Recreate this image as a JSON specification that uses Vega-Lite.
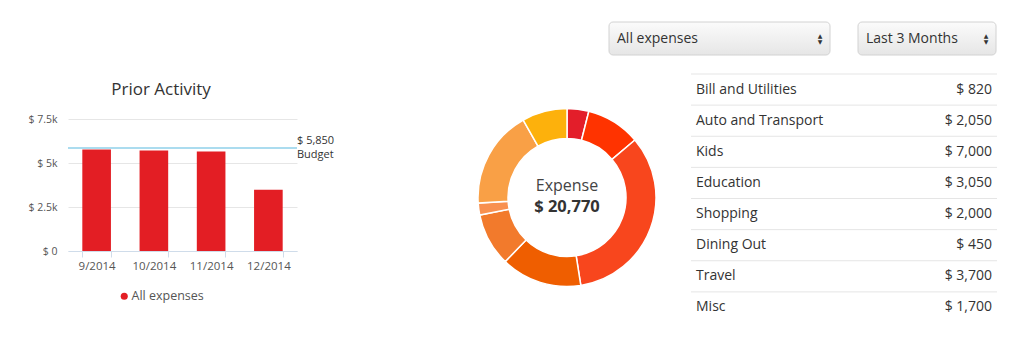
{
  "$schema": "https://vega.github.io/schema/vega-lite/v6.json",
  "width": 1024,
  "height": 338,
  "autosize": {"type": "none"},
  "padding": 0,
  "background": "white",
  "view": {"stroke": null},
  "config": {"font": "Open Sans"},
  "datasets": {
    "months": [
      {"month": "9/2014", "amount": 5760, "series": "All expenses"},
      {"month": "10/2014", "amount": 5710, "series": "All expenses"},
      {"month": "11/2014", "amount": 5660, "series": "All expenses"},
      {"month": "12/2014", "amount": 3480, "series": "All expenses"}
    ],
    "budget": [
      {"name": "Budget", "amount": 5850, "lines": ["$ 5,850", "Budget"], "first": "9/2014", "last": "12/2014"}
    ],
    "title": [{"title": "Prior Activity"}],
    "categories": [
      {"order": 1, "category": "Bill and Utilities", "amount": 820, "label": "$ 820"},
      {"order": 2, "category": "Auto and Transport", "amount": 2050, "label": "$ 2,050"},
      {"order": 3, "category": "Kids", "amount": 7000, "label": "$ 7,000"},
      {"order": 4, "category": "Education", "amount": 3050, "label": "$ 3,050"},
      {"order": 5, "category": "Shopping", "amount": 2000, "label": "$ 2,000"},
      {"order": 6, "category": "Dining Out", "amount": 450, "label": "$ 450"},
      {"order": 7, "category": "Travel", "amount": 3700, "label": "$ 3,700"},
      {"order": 8, "category": "Misc", "amount": 1700, "label": "$ 1,700"}
    ],
    "total": [{"chart": "Expense", "label": "$ 20,770"}],
    "filterA": [{"name": "All expenses"}],
    "filterB": [{"name": "Last 3 Months"}]
  },
  "layer": [
    {
      "data": {"name": "months"},
      "layer": [
        {
          "mark": {"type": "bar"},
          "encoding": {
            "x": {
              "field": "month", "type": "ordinal",
              "scale": {"domain": ["9/2014", "10/2014", "11/2014", "12/2014"], "range": [68, 297], "paddingInner": 0.5, "paddingOuter": 0.25},
              "axis": {"orient": "bottom", "offset": -87, "title": null, "labelAngle": 0, "tickBand": "extent", "domainColor": "#cfdcea", "tickColor": "#cfdcea", "tickSize": 6, "labelColor": "#555555", "labelFontSize": 11.5, "labelPadding": 3, "grid": false}
            },
            "y": {
              "field": "amount", "type": "quantitative",
              "scale": {"domain": [0, 7500], "range": [251, 119], "nice": false},
              "axis": {"orient": "left", "offset": -68, "title": null, "values": [0, 2500, 5000, 7500], "labelExpr": "datum.value == 0 ? '$ 0' : '$ ' + format(datum.value / 1000, '~g') + 'k'", "ticks": false, "domain": false, "gridColor": "#e6e6e6", "labelPadding": 11, "labelColor": "#555555", "labelFontSize": 10.5}
            },
            "color": {
              "field": "series", "type": "nominal",
              "scale": {"range": ["#e31e24"]},
              "legend": {"orient": "none", "legendX": 118, "legendY": 290, "title": null, "symbolType": "circle", "symbolSize": 50, "labelOffset": 1, "labelFontSize": 12.5, "labelColor": "#555555"}
            }
          }
        },
        {
          "data": {"name": "budget"},
          "mark": {"type": "rule", "color": "#8fd0ea", "strokeWidth": 1.5},
          "encoding": {
            "x": {"field": "first", "type": "ordinal", "bandPosition": -0.5},
            "x2": {"field": "last", "bandPosition": 1.5},
            "y": {"field": "amount", "type": "quantitative"}
          }
        },
        {
          "data": {"name": "budget"},
          "mark": {"type": "text", "align": "left", "baseline": "middle", "dy": -7, "fontSize": 11, "color": "#333333", "lineHeight": 14},
          "encoding": {
            "x": {"field": "last", "type": "ordinal", "bandPosition": 1.5},
            "y": {"field": "amount", "type": "quantitative"},
            "text": {"field": "lines"}
          }
        },
        {
          "data": {"name": "title"},
          "mark": {"type": "text", "align": "center", "baseline": "middle", "fontSize": 17, "color": "#333333"},
          "encoding": {
            "x": {"datum": "10/2014", "type": "ordinal", "bandPosition": 0.75},
            "y": {"datum": 9150, "type": "quantitative"},
            "text": {"field": "title"}
          }
        }
      ]
    },
    {
      "data": {"name": "categories"},
      "layer": [
        {
          "mark": {"type": "arc", "outerRadius": 89, "innerRadius": 59, "stroke": "white", "strokeWidth": 1.5},
          "encoding": {
            "theta": {"field": "amount", "type": "quantitative", "stack": true},
            "order": {"field": "order", "type": "quantitative"},
            "color": {
              "field": "category", "type": "nominal",
              "scale": {
                "domain": ["Bill and Utilities", "Auto and Transport", "Kids", "Education", "Shopping", "Dining Out", "Travel", "Misc"],
                "range": ["#e31e2a", "#ff3300", "#f8461d", "#ef5e00", "#f27a2c", "#f8904f", "#f9a046", "#fdb10c"]
              },
              "legend": null
            },
            "x": {"datum": "Expense", "type": "nominal", "scale": {"type": "point", "domain": ["Expense"], "range": [567, 567]}, "axis": null},
            "y": {"datum": "Expense", "type": "nominal", "scale": {"type": "point", "domain": ["Expense"], "range": [197.5, 197.5]}, "axis": null}
          }
        },
        {
          "data": {"name": "total"},
          "mark": {"type": "text", "align": "center", "baseline": "middle", "dy": -12, "fontSize": 16, "color": "#444444"},
          "encoding": {
            "x": {"field": "chart", "type": "nominal"},
            "y": {"field": "chart", "type": "nominal"},
            "text": {"field": "chart"}
          }
        },
        {
          "data": {"name": "total"},
          "mark": {"type": "text", "align": "center", "baseline": "middle", "dy": 9, "fontSize": 16.5, "fontWeight": "bold", "color": "#333333"},
          "encoding": {
            "x": {"field": "chart", "type": "nominal"},
            "y": {"field": "chart", "type": "nominal"},
            "text": {"field": "label"}
          }
        }
      ]
    },
    {
      "data": {"name": "categories"},
      "layer": [
        {
          "mark": {"type": "rule", "color": "#e5e5e5", "strokeWidth": 1},
          "encoding": {
            "y": {
              "field": "category", "type": "nominal", "bandPosition": 0,
              "scale": {"type": "band", "domain": ["Bill and Utilities", "Auto and Transport", "Kids", "Education", "Shopping", "Dining Out", "Travel", "Misc"], "range": [74, 323], "paddingInner": 0, "paddingOuter": 0},
              "axis": null
            },
            "x": {"datum": "name", "type": "nominal", "scale": {"type": "point", "domain": ["name", "amount"], "range": [691, 997], "padding": 0}, "axis": null},
            "x2": {"datum": "amount"}
          }
        },
        {
          "mark": {"type": "text", "align": "left", "baseline": "middle", "dx": 5, "fontSize": 14, "color": "#333333"},
          "encoding": {
            "y": {"field": "category", "type": "nominal", "bandPosition": 0.5},
            "x": {"datum": "name", "type": "nominal"},
            "text": {"field": "category"}
          }
        },
        {
          "mark": {"type": "text", "align": "right", "baseline": "middle", "dx": -5, "fontSize": 14, "color": "#333333"},
          "encoding": {
            "y": {"field": "category", "type": "nominal", "bandPosition": 0.5},
            "x": {"datum": "amount", "type": "nominal"},
            "text": {"field": "label"}
          }
        }
      ]
    },
    {
      "data": {"name": "filterA"},
      "layer": [
        {
          "mark": {"type": "rect", "cornerRadius": 4, "stroke": "#d2d2d2", "strokeWidth": 1,
            "fill": {"gradient": "linear", "x1": 0, "y1": 0, "x2": 0, "y2": 1, "stops": [{"offset": 0, "color": "#fbfbfb"}, {"offset": 1, "color": "#e6e6e6"}]}},
          "encoding": {
            "x": {"field": "name", "type": "nominal", "scale": {"type": "band", "range": [609, 830], "paddingInner": 0, "paddingOuter": 0}, "axis": null},
            "y": {"field": "name", "type": "nominal", "scale": {"type": "band", "range": [22, 55], "paddingInner": 0, "paddingOuter": 0}, "axis": null}
          }
        },
        {
          "mark": {"type": "text", "align": "left", "baseline": "middle", "dx": 8, "fontSize": 14, "color": "#333333"},
          "encoding": {
            "x": {"field": "name", "type": "nominal", "bandPosition": 0},
            "y": {"field": "name", "type": "nominal", "bandPosition": 0.5},
            "text": {"field": "name"}
          }
        },
        {
          "mark": {"type": "text", "align": "center", "baseline": "middle", "dx": -10, "dy": -3, "fontSize": 6, "color": "#333333", "font": "DejaVu Sans", "text": "▲"},
          "encoding": {
            "x": {"field": "name", "type": "nominal", "bandPosition": 1},
            "y": {"field": "name", "type": "nominal", "bandPosition": 0.5}
          }
        },
        {
          "mark": {"type": "text", "align": "center", "baseline": "middle", "dx": -10, "dy": 3, "fontSize": 6, "color": "#333333", "font": "DejaVu Sans", "text": "▼"},
          "encoding": {
            "x": {"field": "name", "type": "nominal", "bandPosition": 1},
            "y": {"field": "name", "type": "nominal", "bandPosition": 0.5}
          }
        }
      ]
    },
    {
      "data": {"name": "filterB"},
      "layer": [
        {
          "mark": {"type": "rect", "cornerRadius": 4, "stroke": "#d2d2d2", "strokeWidth": 1,
            "fill": {"gradient": "linear", "x1": 0, "y1": 0, "x2": 0, "y2": 1, "stops": [{"offset": 0, "color": "#fbfbfb"}, {"offset": 1, "color": "#e6e6e6"}]}},
          "encoding": {
            "x": {"field": "name", "type": "nominal", "scale": {"type": "band", "range": [858, 996], "paddingInner": 0, "paddingOuter": 0}, "axis": null},
            "y": {"field": "name", "type": "nominal", "scale": {"type": "band", "range": [22, 55], "paddingInner": 0, "paddingOuter": 0}, "axis": null}
          }
        },
        {
          "mark": {"type": "text", "align": "left", "baseline": "middle", "dx": 8, "fontSize": 14, "color": "#333333"},
          "encoding": {
            "x": {"field": "name", "type": "nominal", "bandPosition": 0},
            "y": {"field": "name", "type": "nominal", "bandPosition": 0.5},
            "text": {"field": "name"}
          }
        },
        {
          "mark": {"type": "text", "align": "center", "baseline": "middle", "dx": -10, "dy": -3, "fontSize": 6, "color": "#333333", "font": "DejaVu Sans", "text": "▲"},
          "encoding": {
            "x": {"field": "name", "type": "nominal", "bandPosition": 1},
            "y": {"field": "name", "type": "nominal", "bandPosition": 0.5}
          }
        },
        {
          "mark": {"type": "text", "align": "center", "baseline": "middle", "dx": -10, "dy": 3, "fontSize": 6, "color": "#333333", "font": "DejaVu Sans", "text": "▼"},
          "encoding": {
            "x": {"field": "name", "type": "nominal", "bandPosition": 1},
            "y": {"field": "name", "type": "nominal", "bandPosition": 0.5}
          }
        }
      ]
    }
  ],
  "resolve": {
    "scale": {"x": "independent", "y": "independent", "color": "independent", "theta": "independent"},
    "axis": {"x": "independent", "y": "independent"},
    "legend": {"color": "independent"}
  }
}
